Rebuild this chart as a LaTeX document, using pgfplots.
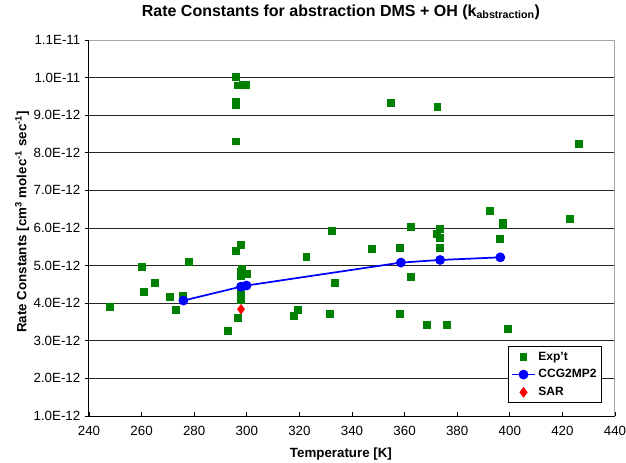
\documentclass[border=0pt]{standalone}
\usepackage{fontspec}
\setmainfont{Liberation Sans}
\usepackage{pgfplots}
\pgfplotsset{compat=1.18}
\definecolor{expgreen}{RGB}{0,128,0}
\begin{document}
\begin{tikzpicture}
\useasboundingbox (-66.75pt,-34.5pt) rectangle (402.75pt,312pt);
\begin{axis}[
   at={(0,0)}, anchor=south west,
   scale only axis,
   width=394.5pt, height=282pt,
   xmin=240, xmax=440,
   ymin=1e-12, ymax=1.1e-11,
   xtick={240,260,...,440},
   ytick={1e-12,2e-12,3e-12,4e-12,5e-12,6e-12,7e-12,8e-12,9e-12,1e-11,1.1e-11},
   yticklabels={1.0E-12,2.0E-12,3.0E-12,4.0E-12,5.0E-12,6.0E-12,7.0E-12,8.0E-12,9.0E-12,1.0E-11,1.1E-11},
   scaled y ticks=false,
   /pgf/number format/assume math mode=true,
   tick pos=left,
   major tick length=3pt,
   ytick style={xshift=-3pt},
   tick style={black, line width=0.6pt},
   ymajorgrids=true,
   major grid style={black!85, line width=0.6pt},
   axis line style={gray!70, line width=0.75pt},
   clip=false,
   tick label style={font=\fontsize{10}{12}\selectfont},
   yticklabel style={xshift=-3pt},
   xticklabel style={yshift=-4pt},
   title={Rate Constants for abstraction DMS + OH (k\textsubscript{abstraction})},
   title style={at={(axis description cs:0.479,1.053)}, anchor=center, font=\bfseries\fontsize{12}{14}\selectfont},
   xlabel={Temperature [K]},
   xlabel style={at={(axis description cs:0.479,-0.119)}, anchor=south, inner sep=0pt, font=\bfseries\fontsize{10}{12}\selectfont},
   ylabel={Rate Constants [cm\textsuperscript{3} molec\textsuperscript{-1} sec\textsuperscript{-1}]},
   ylabel style={at={(axis description cs:-0.127,0.516)}, anchor=center, font=\bfseries\fontsize{10}{12}\selectfont},
   legend style={at={(0.797,0.186)}, anchor=north west, draw=black, line width=0.6pt,
      font=\bfseries\fontsize{9}{10.5}\selectfont, row sep=1.5pt, inner sep=2pt},
   legend cell align=left,
 ]
   % experimental values
   \addplot[only marks, mark=square*, mark size=2.6pt, color=expgreen,
      mark options={draw=expgreen, fill=expgreen, line width=0pt}] coordinates {
      (248.0,3.91e-12) (260.0,4.97e-12) (260.9,4.31e-12) (265.1,4.53e-12)
      (270.9,4.17e-12) (273.0,3.83e-12) (275.9,4.20e-12) (277.9,5.10e-12)
      (292.8,3.25e-12) (295.8,10.02e-12) (296.8,9.79e-12) (298.5,9.81e-12)
      (299.6,9.81e-12) (295.8,9.36e-12) (295.8,9.28e-12) (295.8,8.30e-12)
      (297.7,5.56e-12) (295.8,5.38e-12) (298.0,4.90e-12) (297.7,4.83e-12)
      (300.0,4.77e-12) (297.7,4.71e-12) (297.7,4.31e-12) (297.7,4.17e-12)
      (297.7,4.09e-12) (296.8,3.61e-12) (322.7,5.22e-12) (319.6,3.82e-12)
      (317.8,3.67e-12) (331.5,3.71e-12) (332.5,5.93e-12) (333.6,4.53e-12)
      (347.6,5.44e-12) (354.8,9.32e-12) (358.3,5.48e-12) (358.3,3.72e-12)
      (362.6,6.03e-12) (362.6,4.69e-12) (368.4,3.42e-12) (372.5,9.23e-12)
      (372.4,5.83e-12) (373.5,5.98e-12) (373.5,5.73e-12) (373.5,5.48e-12)
      (376.1,3.42e-12) (392.4,6.46e-12) (397.4,6.14e-12) (397.4,6.09e-12)
      (396.4,5.71e-12) (399.4,3.32e-12) (423.0,6.24e-12) (426.4,8.23e-12)
   };
   \addlegendentry{Exp't}
   % CCG2MP2
   \addplot[blue, line width=1.3pt, mark=*, mark size=3pt] coordinates {
      (275.9,4.07e-12) (297.8,4.44e-12) (299.9,4.47e-12)
      (358.6,5.08e-12) (373.5,5.15e-12) (396.4,5.22e-12)
   };
   \addlegendentry{CCG2MP2}
   % SAR
   \addplot[only marks, red, mark=diamond*, mark size=3.6pt] coordinates {(297.8,3.84e-12)};
   \addlegendentry{SAR}
   \draw[black, line width=0.75pt] (rel axis cs:0,1) -- (rel axis cs:0,0) -- (rel axis cs:1,0);
\end{axis}
\end{tikzpicture}
\end{document}
